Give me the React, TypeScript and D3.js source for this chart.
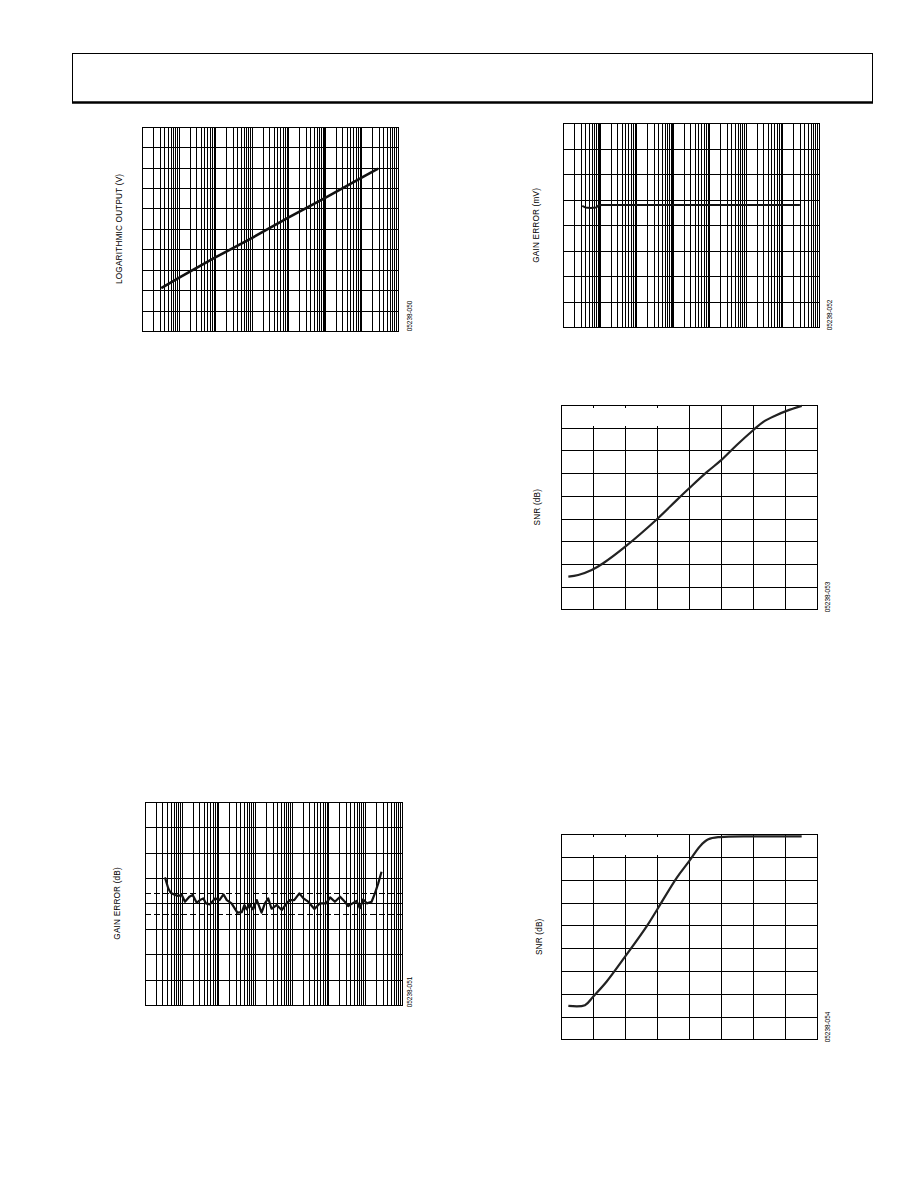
import React from "react";
import * as d3 from "d3";

// ---------- Chart 1: logarithmic output vs input current (log x) ----------
const logOutCurrent = [3.3e-10, 1e-9, 1e-8, 1e-7, 1e-6, 1e-5, 1e-4, 2.9e-4];
const logOutVolts = [0.42, 0.52, 0.72, 0.91, 1.11, 1.3, 1.5, 1.59];
const logOutYTicks = [0, 0.2, 0.4, 0.6, 0.8, 1.0, 1.2, 1.4, 1.6, 1.8, 2.0];

// ---------- Chart 2: gain error (mV) vs input current ----------
const gainMvCurrent = [3.3e-10, 4.0e-10, 5.6e-10, 7.9e-10, 9.3e-10, 1.12e-9, 1e-8, 1e-7, 1e-6, 1e-5, 1e-4, 3.0e-4];
const gainMvValues = [0.76, 0.7, 0.68, 0.7, 0.78, 0.8, 0.8, 0.8, 0.8, 0.8, 0.8, 0.8];
const gainMvYTicks = [-4, -3, -2, -1, 0, 1, 2, 3, 4];

// ---------- Chart 4: gain error (dB) vs input current ----------
const gainDbCurrent = [
  3.5e-10, 4.3e-10, 5.0e-10, 6.6e-10, 8.1e-10, 1.0e-9, 1.23e-9, 1.62e-9, 2.0e-9, 2.57e-9,
  3.16e-9, 3.89e-9, 4.57e-9, 5.89e-9, 8.13e-9, 1.07e-8, 1.38e-8, 1.7e-8, 2.29e-8, 3.31e-8,
  4.37e-8, 5.13e-8, 5.89e-8, 7.08e-8, 8.91e-8, 1.12e-7, 1.51e-7, 1.86e-7, 2.29e-7, 2.82e-7,
  3.89e-7, 5.37e-7, 7.24e-7, 8.91e-7, 1.17e-6, 1.62e-6, 2.09e-6, 2.82e-6, 4.17e-6, 5.89e-6,
  8.71e-6, 1.12e-5, 1.51e-5, 2.09e-5, 2.82e-5, 3.47e-5, 4.57e-5, 5.89e-5, 7.24e-5, 8.91e-5,
  1.12e-4, 1.51e-4, 1.86e-4, 2.29e-4, 2.82e-4,
];
const gainDbValues = [
  0.256, 0.148, 0.104, 0.082, 0.072, 0.085, 0.016, 0.065, 0.082, 0.006,
  0.032, 0.049, 0.0, -0.01, 0.049, 0.032, 0.089, 0.032, 0.0, -0.092,
  -0.086, -0.017, -0.059, -0.01, -0.059, 0.032, -0.092, 0.0, 0.049, -0.053,
  -0.017, -0.066, 0.0, 0.032, 0.032, 0.098, 0.049, 0.016, -0.056, 0.0,
  0.0, 0.059, 0.016, 0.065, 0.016, -0.026, 0.0, 0.023, -0.049, 0.039,
  0.0, 0.016, 0.098, 0.197, 0.311,
];
const gainDbYTicks = [-1, -0.75, -0.5, -0.25, 0, 0.25, 0.5, 0.75, 1];
const gainDbLimits = [-0.1, 0.1];

// ---------- Chart 3: SNR vs input ----------
const snrAInput = [-67.7, -64.6, -60.4, -56.8, -49.9, -39.9, -33.8, -29.9, -24.4, -19.8, -15.0, -9.8, -6.7, -3.0, 0.6, 5.3];
const snrAValues = [14.4, 15.1, 17.3, 20.3, 27.6, 39.8, 48.1, 53.3, 60.4, 65.8, 72.4, 79.0, 82.6, 85.3, 87.4, 89.6];

// ---------- Chart 5: SNR vs input ----------
const snrBInput = [-67.7, -62.5, -59.9, -55.7, -49.9, -43.2, -39.9, -33.8, -29.9, -26.5, -23.9, -20.3, -9.8, 5.3];
const snrBValues = [14.7, 15.0, 18.8, 25.4, 36.4, 49.6, 57.0, 70.9, 78.2, 84.8, 87.8, 88.8, 89.1, 89.1];

const snrXTicks = [-70, -60, -50, -40, -30, -20, -10, 0, 10];
const snrYTicks = [0, 10, 20, 30, 40, 50, 60, 70, 80, 90];
const snrMaskedX = [-60, -50, -40];

const FONT = "'Liberation Sans', Arial, Helvetica, sans-serif";

type Frame = { left: number; right: number; top: number; bottom: number };

const px = (v: number) => Math.round(v) + 0.5;

function Labels(props: { title: string; titleX: number; cy: number; code: string; codeX: number; codeY: number }) {
  const { title, titleX, cy, code, codeX, codeY } = props;
  return (
    <g>
      <text
        transform={`translate(${titleX},${cy}) rotate(-90)`}
        textAnchor="middle"
        dominantBaseline="middle"
        fontFamily={FONT}
        fontSize={8.2}
        letterSpacing={0.2}
        fill="#000"
      >
        {title}
      </text>
      <text
        transform={`translate(${codeX},${codeY}) rotate(-90)`}
        textAnchor="middle"
        dominantBaseline="middle"
        fontFamily={FONT}
        fontSize={6.4}
        fill="#000"
      >
        {code}
      </text>
    </g>
  );
}

function LogChart(props: {
  frame: Frame;
  xs: number[];
  ys: number[];
  yTicks: number[];
  thick: number[];
  dashed?: number[];
  title: string;
  titleX: number;
  code: string;
  codeX: number;
  codeY: number;
  lineW: number;
}) {
  const { frame, xs, ys, yTicks, thick, dashed, title, titleX, code, codeX, codeY, lineW } = props;
  const x = d3.scaleLog().domain([1e-10, 1e-3]).range([frame.left, frame.right]);
  const y = d3
    .scaleLinear()
    .domain([yTicks[0], yTicks[yTicks.length - 1]])
    .range([frame.bottom, frame.top]);
  const vticks = x.ticks(10);
  const line = d3
    .line<number>()
    .x((_, i) => x(xs[i]))
    .y((d) => y(d));
  const cy = (frame.top + frame.bottom) / 2;
  return (
    <g>
      <g stroke="#000" strokeWidth={1} shapeRendering="crispEdges">
        {vticks.map((t, i) => (
          <line key={"v" + i} x1={px(x(t))} x2={px(x(t))} y1={frame.top} y2={frame.bottom} />
        ))}
        {yTicks.map((t, i) => (
          <line key={"h" + i} x1={frame.left} x2={frame.right} y1={px(y(t))} y2={px(y(t))} />
        ))}
        {thick.map((t, i) => (
          <line key={"t" + i} x1={x(t)} x2={x(t)} y1={frame.top} y2={frame.bottom} strokeWidth={2} />
        ))}
        {(dashed || []).map((t, i) => (
          <line
            key={"d" + i}
            x1={frame.left}
            x2={frame.right}
            y1={px(y(t))}
            y2={px(y(t))}
            strokeDasharray="6,3"
          />
        ))}
        <rect
          x={px(frame.left)}
          y={px(frame.top)}
          width={Math.round(frame.right) - Math.round(frame.left)}
          height={Math.round(frame.bottom) - Math.round(frame.top)}
          fill="none"
        />
      </g>
      <path d={line(ys) || ""} fill="none" stroke="#111" strokeWidth={lineW} strokeLinejoin="round" />
      <Labels title={title} titleX={titleX} cy={cy} code={code} codeX={codeX} codeY={codeY} />
    </g>
  );
}

function LinChart(props: {
  frame: Frame;
  xs: number[];
  ys: number[];
  title: string;
  titleX: number;
  code: string;
  codeX: number;
  codeY: number;
}) {
  const { frame, xs, ys, title, titleX, code, codeX, codeY } = props;
  const x = d3
    .scaleLinear()
    .domain([snrXTicks[0], snrXTicks[snrXTicks.length - 1]])
    .range([frame.left, frame.right]);
  const y = d3
    .scaleLinear()
    .domain([snrYTicks[0], snrYTicks[snrYTicks.length - 1]])
    .range([frame.bottom, frame.top]);
  const topRowY = px(y(snrYTicks[snrYTicks.length - 2]));
  const line = d3
    .line<number>()
    .x((_, i) => x(xs[i]))
    .y((d) => y(d))
    .curve(d3.curveCatmullRom.alpha(0.5));
  const cy = (frame.top + frame.bottom) / 2;
  return (
    <g>
      <g stroke="#000" strokeWidth={1} shapeRendering="crispEdges">
        {snrXTicks.map((t, i) => {
          const xx = px(x(t));
          if (snrMaskedX.includes(t)) {
            return (
              <g key={"v" + i}>
                <line x1={xx} x2={xx} y1={topRowY} y2={frame.bottom} />
                <line x1={xx} x2={xx} y1={frame.top} y2={frame.top + 3} />
                <line x1={xx} x2={xx} y1={topRowY - 3} y2={topRowY} />
              </g>
            );
          }
          return <line key={"v" + i} x1={xx} x2={xx} y1={frame.top} y2={frame.bottom} />;
        })}
        {snrYTicks.map((t, i) => (
          <line key={"h" + i} x1={frame.left} x2={frame.right} y1={px(y(t))} y2={px(y(t))} />
        ))}
        <rect
          x={px(frame.left)}
          y={px(frame.top)}
          width={Math.round(frame.right) - Math.round(frame.left)}
          height={Math.round(frame.bottom) - Math.round(frame.top)}
          fill="none"
        />
      </g>
      <path d={line(ys) || ""} fill="none" stroke="#222" strokeWidth={2.2} strokeLinejoin="round" />
      <Labels title={title} titleX={titleX} cy={cy} code={code} codeX={codeX} codeY={codeY} />
    </g>
  );
}

export default function App() {
  return (
    <svg
      width={918}
      height={1188}
      viewBox="0 0 918 1188"
      style={{ position: "absolute", left: 0, top: 0, background: "#fff" }}
    >
      <rect x={0} y={0} width={918} height={1188} fill="#fff" />
      {/* header box */}
      <g stroke="#000" fill="none">
        <line x1={72.5} x2={72.5} y1={53} y2={103} strokeWidth={1} />
        <line x1={872.5} x2={872.5} y1={53} y2={103} strokeWidth={1} />
        <line x1={72} x2={873} y1={53.5} y2={53.5} strokeWidth={1} />
        <line x1={72} x2={873} y1={102.5} y2={102.5} strokeWidth={2.5} />
      </g>

      <LogChart
        frame={{ left: 142.3, right: 397.7, top: 126.7, bottom: 331 }}
        xs={logOutCurrent}
        ys={logOutVolts}
        yTicks={logOutYTicks}
        thick={[1e-5]}
        title="LOGARITHMIC OUTPUT (V)"
        titleX={119.5}
        code="05238-050"
        codeX={410}
        codeY={316}
        lineW={2.6}
      />
      <LogChart
        frame={{ left: 563.3, right: 819, top: 123.3, bottom: 327.3 }}
        xs={gainMvCurrent}
        ys={gainMvValues}
        yTicks={gainMvYTicks}
        thick={[1e-9, 1e-7]}
        title="GAIN ERROR (mV)"
        titleX={537}
        code="05238-052"
        codeX={830}
        codeY={315}
        lineW={2}
      />
      <LogChart
        frame={{ left: 145, right: 401.7, top: 801.7, bottom: 1005 }}
        xs={gainDbCurrent}
        ys={gainDbValues}
        yTicks={gainDbYTicks}
        thick={[]}
        dashed={gainDbLimits}
        title="GAIN ERROR (dB)"
        titleX={118}
        code="05238-051"
        codeX={410}
        codeY={992}
        lineW={2.2}
      />
      <LinChart
        frame={{ left: 561, right: 816.7, top: 405, bottom: 609.3 }}
        xs={snrAInput}
        ys={snrAValues}
        title="SNR (dB)"
        titleX={538}
        code="05238-053"
        codeX={828}
        codeY={597}
      />
      <LinChart
        frame={{ left: 561, right: 816.7, top: 834.3, bottom: 1039.3 }}
        xs={snrBInput}
        ys={snrBValues}
        title="SNR (dB)"
        titleX={540}
        code="05238-054"
        codeX={828}
        codeY={1027}
      />
    </svg>
  );
}
